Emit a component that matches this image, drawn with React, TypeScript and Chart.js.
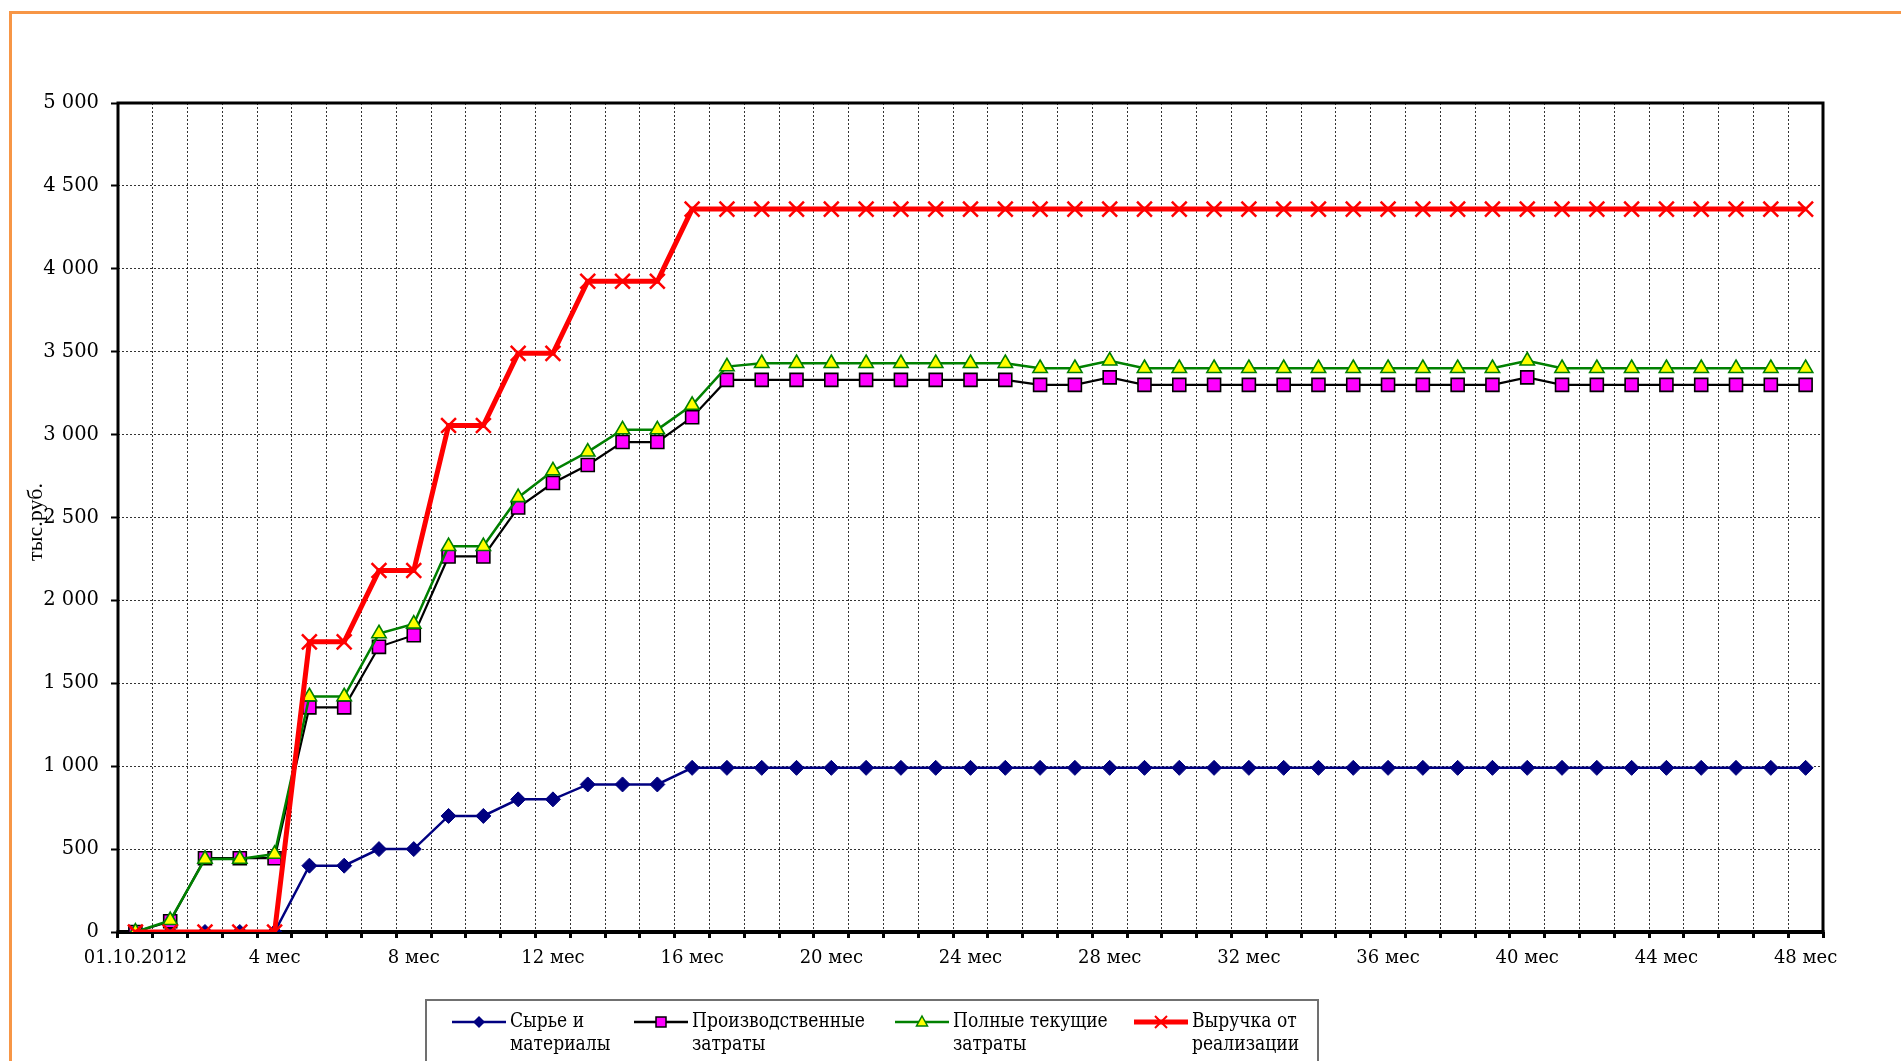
import React, { useEffect, useRef } from 'react';
import { Chart, registerables } from 'chart.js';

Chart.register(...registerables);

const categories = [
  '01.10.2012', '1 мес', '2 мес', '3 мес', '4 мес', '5 мес', '6 мес', '7 мес', '8 мес', '9 мес',
  '10 мес', '11 мес', '12 мес', '13 мес', '14 мес', '15 мес', '16 мес', '17 мес', '18 мес', '19 мес',
  '20 мес', '21 мес', '22 мес', '23 мес', '24 мес', '25 мес', '26 мес', '27 мес', '28 мес', '29 мес',
  '30 мес', '31 мес', '32 мес', '33 мес', '34 мес', '35 мес', '36 мес', '37 мес', '38 мес', '39 мес',
  '40 мес', '41 мес', '42 мес', '43 мес', '44 мес', '45 мес', '46 мес', '47 мес', '48 мес',
];

const rawMaterials = [
  0, 0, 0, 0, 0, 400, 400, 500, 500, 700,
  700, 800, 800, 890, 890, 890, 990, 990, 990, 990,
  990, 990, 990, 990, 990, 990, 990, 990, 990, 990,
  990, 990, 990, 990, 990, 990, 990, 990, 990, 990,
  990, 990, 990, 990, 990, 990, 990, 990, 990,
];

const productionCosts = [
  0, 65, 445, 445, 445, 1355, 1355, 1720, 1790, 2265,
  2265, 2560, 2708, 2817, 2955, 2955, 3105, 3330, 3330, 3330,
  3330, 3330, 3330, 3330, 3330, 3330, 3300, 3300, 3345, 3300,
  3300, 3300, 3300, 3300, 3300, 3300, 3300, 3300, 3300, 3300,
  3345, 3300, 3300, 3300, 3300, 3300, 3300, 3300, 3300,
];

const totalCosts = [
  0, 70, 440, 440, 470, 1420, 1420, 1800, 1858, 2326,
  2326, 2621, 2782, 2896, 3030, 3030, 3178, 3410, 3430, 3430,
  3430, 3430, 3430, 3430, 3430, 3430, 3400, 3400, 3445, 3400,
  3400, 3400, 3400, 3400, 3400, 3400, 3400, 3400, 3400, 3400,
  3445, 3400, 3400, 3400, 3400, 3400, 3400, 3400, 3400,
];

const revenue = [
  0, 0, 0, 0, 0, 1750, 1750, 2180, 2180, 3055,
  3055, 3490, 3490, 3925, 3925, 3925, 4360, 4360, 4360, 4360,
  4360, 4360, 4360, 4360, 4360, 4360, 4360, 4360, 4360, 4360,
  4360, 4360, 4360, 4360, 4360, 4360, 4360, 4360, 4360, 4360,
  4360, 4360, 4360, 4360, 4360, 4360, 4360, 4360, 4360,
];

const seriesLabels = [
  ['Сырье и', 'материалы'],
  ['Производственные', 'затраты'],
  ['Полные текущие', 'затраты'],
  ['Выручка от', 'реализации'],
];

const yAxisTitle = 'тыс.руб.';
const yMin = 0;
const yMax = 5000;
const yStep = 500;
const xLabelEvery = 4;

const fmt = (v: number) => String(v).replace(/\B(?=(\d{3})+(?!\d))/g, ' ');

function drawMarker(ctx: CanvasRenderingContext2D, kind: string, x: number, y: number) {
  ctx.save();
  if (kind === 'diamond') {
    ctx.fillStyle = '#000080';
    ctx.beginPath();
    ctx.moveTo(x, y - 6); ctx.lineTo(x + 6, y); ctx.lineTo(x, y + 6); ctx.lineTo(x - 6, y);
    ctx.closePath(); ctx.fill();
  } else if (kind === 'square') {
    ctx.fillStyle = '#FF00FF'; ctx.strokeStyle = '#000'; ctx.lineWidth = 1.5;
    ctx.fillRect(x - 5, y - 5, 10, 10); ctx.strokeRect(x - 5, y - 5, 10, 10);
  } else if (kind === 'triangle') {
    ctx.fillStyle = '#FFFF00'; ctx.strokeStyle = '#008000'; ctx.lineWidth = 1.5;
    ctx.beginPath();
    ctx.moveTo(x, y - 6); ctx.lineTo(x + 5.5, y + 4); ctx.lineTo(x - 5.5, y + 4);
    ctx.closePath(); ctx.fill(); ctx.stroke();
  } else if (kind === 'cross') {
    ctx.strokeStyle = '#FF0000'; ctx.lineWidth = 2;
    ctx.beginPath();
    ctx.moveTo(x - 6, y - 6); ctx.lineTo(x + 6, y + 6);
    ctx.moveTo(x + 6, y - 6); ctx.lineTo(x - 6, y + 6);
    ctx.stroke();
  }
  ctx.restore();
}

const framePlugin = {
  id: 'framePlugin',
  beforeDraw(chart: any) {
    const ctx: CanvasRenderingContext2D = chart.ctx;
    ctx.save();
    ctx.fillStyle = '#ffffff';
    ctx.fillRect(0, 0, chart.width, chart.height);
    ctx.strokeStyle = '#F79646';
    ctx.lineWidth = 3;
    ctx.beginPath();
    ctx.moveTo(10.5, chart.height + 10);
    ctx.lineTo(10.5, 12.5);
    ctx.lineTo(chart.width + 10, 12.5);
    ctx.stroke();
    ctx.restore();
  },
  beforeDatasetsDraw(chart: any) {
    const ctx: CanvasRenderingContext2D = chart.ctx;
    const a = chart.chartArea;
    ctx.save();
    ctx.strokeStyle = '#000';
    ctx.lineWidth = 3;
    ctx.beginPath();
    ctx.moveTo(a.left, a.bottom);
    ctx.lineTo(a.left, a.top);
    ctx.lineTo(a.right, a.top);
    ctx.lineTo(a.right, a.bottom);
    ctx.stroke();
    ctx.lineWidth = 4;
    ctx.beginPath();
    ctx.moveTo(a.left - 1.5, a.bottom);
    ctx.lineTo(a.right + 1.5, a.bottom);
    ctx.stroke();
    ctx.restore();
  },
  afterDraw(chart: any) {
    const ctx: CanvasRenderingContext2D = chart.ctx;
    // y axis title
    ctx.save();
    ctx.translate(36, 522);
    ctx.rotate(-Math.PI / 2);
    ctx.fillStyle = '#000';
    ctx.font = '22px "Liberation Serif"';
    ctx.textAlign = 'center';
    ctx.textBaseline = 'middle';
    ctx.fillText(yAxisTitle, 0, 0);
    ctx.restore();

    // legend
    const boxL = 426, boxT = 1000, boxR = 1318;
    ctx.save();
    ctx.strokeStyle = '#707070';
    ctx.lineWidth = 2;
    ctx.strokeRect(boxL, boxT, boxR - boxL, 100);
    const lineStarts = [452, 634, 895, 1134];
    const lineLen = 54;
    const markers = ['diamond', 'square', 'triangle', 'cross'];
    const rowY = [1022, 1045];
    ctx.font = '20px "DejaVu Serif"';
    const targetW = 173;
    const measured = ctx.measureText(seriesLabels[1][0]).width;
    const sx = targetW / measured;
    chart.data.datasets.forEach((ds: any, i: number) => {
      const x0 = lineStarts[i];
      ctx.strokeStyle = ds.borderColor;
      ctx.lineWidth = i === 3 ? 5 : 2.5;
      ctx.beginPath();
      ctx.moveTo(x0, rowY[0]);
      ctx.lineTo(x0 + lineLen, rowY[0]);
      ctx.stroke();
      drawMarker(ctx, markers[i], x0 + lineLen / 2, rowY[0]);
      ctx.fillStyle = '#000';
      ctx.textBaseline = 'middle';
      ctx.textAlign = 'left';
      seriesLabels[i].forEach((t, r) => {
        ctx.save();
        ctx.translate(x0 + lineLen + 4, rowY[r]);
        ctx.scale(sx, 1);
        ctx.fillText(t, 0, 0);
        ctx.restore();
      });
    });
    ctx.restore();
  },
};

export default function App() {
  const ref = useRef<HTMLCanvasElement>(null);
  useEffect(() => {
    const canvas = ref.current;
    if (!canvas) return;
    const gridColor = 'rgba(0,0,0,0.8)';
    const chart = new Chart(canvas, {
      type: 'line',
      data: {
        labels: categories,
        datasets: [
          {
            label: seriesLabels[0].join(' '),
            data: rawMaterials,
            borderColor: '#000080',
            backgroundColor: '#000080',
            borderWidth: 2.5,
            pointStyle: 'rectRot',
            pointRadius: 7.5,
            pointBackgroundColor: '#000080',
            pointBorderColor: '#000080',
            pointBorderWidth: 1,
            tension: 0,
            order: 3,
          },
          {
            label: seriesLabels[1].join(' '),
            data: productionCosts,
            borderColor: '#000000',
            backgroundColor: '#FF00FF',
            borderWidth: 2.2,
            pointStyle: 'rect',
            pointRadius: 9.2,
            pointBackgroundColor: '#FF00FF',
            pointBorderColor: '#000000',
            pointBorderWidth: 1.6,
            tension: 0,
            order: 2,
          },
          {
            label: seriesLabels[2].join(' '),
            data: totalCosts,
            borderColor: '#008000',
            backgroundColor: '#FFFF00',
            borderWidth: 2.5,
            pointStyle: 'triangle',
            pointRadius: 8.3,
            pointBackgroundColor: '#FFFF00',
            pointBorderColor: '#008000',
            pointBorderWidth: 1.6,
            tension: 0,
            order: 1,
          },
          {
            label: seriesLabels[3].join(' '),
            data: revenue,
            borderColor: '#FF0000',
            backgroundColor: '#FF0000',
            borderWidth: 5,
            pointStyle: 'crossRot',
            pointRadius: 10.5,
            pointBorderColor: '#FF0000',
            pointBorderWidth: 2.5,
            tension: 0,
            order: 0,
          },
        ],
      },
      options: {
        responsive: false,
        animation: false,
        devicePixelRatio: 1,
        layout: { padding: { top: 103, right: 78, bottom: 69, left: 0 } },
        plugins: {
          legend: { display: false },
          tooltip: { enabled: false },
          title: { display: false },
        },
        scales: {
          x: {
            type: 'category',
            offset: true,
            grid: {
              offset: true,
              color: gridColor,
              lineWidth: 1,
              borderDash: [2, 2],
              tickLength: 6,
              tickWidth: 3,
              tickColor: '#000',
            } as any,
            border: { display: false, dash: [2, 2] },
            ticks: {
              autoSkip: false,
              maxRotation: 0,
              minRotation: 0,
              padding: 10,
              color: '#000',
              font: { family: '"DejaVu Serif"', size: 18 },
              callback: (_v: any, idx: number) => (idx % xLabelEvery === 0 ? categories[idx] : ''),
            },
            afterFit: (s: any) => { s.height = 60; },
          },
          y: {
            min: yMin,
            max: yMax,
            grid: {
              color: gridColor,
              lineWidth: 1,
              borderDash: [2, 2],
              tickLength: 7,
              tickWidth: 2,
              tickColor: '#000',
            } as any,
            border: { display: false, dash: [2, 2] },
            ticks: {
              stepSize: yStep,
              padding: 12,
              color: '#000',
              font: { family: '"DejaVu Serif"', size: 19.5 },
              callback: (v: any) => fmt(Number(v)),
            },
            afterFit: (s: any) => { s.width = 118; },
          },
        },
      },
      plugins: [framePlugin],
    } as any);
    return () => chart.destroy();
  }, []);
  return (
    <div style={{ position: 'fixed', left: 0, top: 0, width: 1901, height: 1061, background: '#fff' }}>
      <canvas ref={ref} width={1901} height={1061} style={{ display: 'block', width: 1901, height: 1061 }} />
    </div>
  );
}
